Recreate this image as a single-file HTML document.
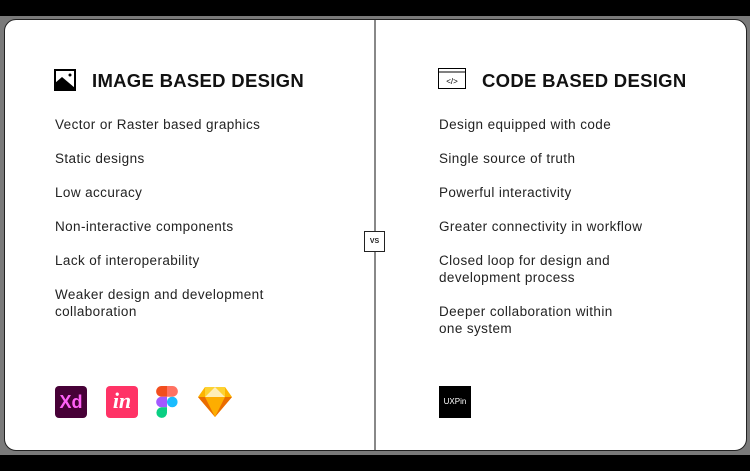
<!DOCTYPE html>
<html><head><style>
body{margin:0;width:750px;height:471px;background:#7a7a7a;position:relative;overflow:hidden;font-family:"Liberation Sans",sans-serif;color:#1a1a1a}
.bt{position:absolute;left:0;top:0;width:750px;height:16px;background:#000}
.bb{position:absolute;left:0;top:455px;width:750px;height:16px;background:#000}
.card{position:absolute;left:4px;top:19px;width:741px;height:430px;background:#fff;border:1px solid #222;border-radius:12px}
.div{position:absolute;left:374px;top:20px;width:2px;height:430px;background:#888}
.vs{position:absolute;left:364px;top:231px;width:19px;height:19px;border:1px solid #222;background:#fff;font-size:7px;font-weight:bold;text-align:center;line-height:19px}
h2{position:absolute;margin:0;font-size:18.5px;font-weight:bold;letter-spacing:0.3px;top:70px;color:#111}
.it{position:absolute;font-size:13.5px;letter-spacing:0.4px;line-height:17px;color:#222}
.ic{position:absolute;width:34px;height:34px;border-radius:4px}
</style></head><body>
<div class="bt"></div><div class="bb"></div>
<div class="card"></div>
<div class="div"></div>
<div class="vs">VS</div>
<svg style="position:absolute;left:54px;top:69px" width="22" height="22"><rect x="1" y="1" width="20" height="20" fill="#fff" stroke="#000" stroke-width="2"/><path d="M1 21 L1 14 L8 8 L21 19 L21 21Z" fill="#000"/><circle cx="16" cy="6" r="1.5" fill="#000"/></svg>
<h2 style="left:92px">IMAGE BASED DESIGN</h2>
<svg style="position:absolute;left:438px;top:68px" width="28" height="22"><rect x="0.5" y="0.5" width="27" height="20" fill="#fff" stroke="#000"/><line x1="0" y1="4" x2="28" y2="4" stroke="#000"/><text x="14" y="16" font-size="8" text-anchor="middle" font-family="Liberation Sans">&lt;/&gt;</text></svg>
<h2 style="left:482px">CODE BASED DESIGN</h2>
<div class="it" style="left:55px;top:116px">Vector or Raster based graphics</div>
<div class="it" style="left:55px;top:150px">Static designs</div>
<div class="it" style="left:55px;top:184px">Low accuracy</div>
<div class="it" style="left:55px;top:218px">Non-interactive components</div>
<div class="it" style="left:55px;top:252px">Lack of interoperability</div>
<div class="it" style="left:55px;top:286px">Weaker design and development<br>collaboration</div>
<div class="it" style="left:439px;top:116px">Design equipped with code</div>
<div class="it" style="left:439px;top:150px">Single source of truth</div>
<div class="it" style="left:439px;top:184px">Powerful interactivity</div>
<div class="it" style="left:439px;top:218px">Greater connectivity in workflow</div>
<div class="it" style="left:439px;top:252px">Closed loop for design and<br>development process</div>
<div class="it" style="left:439px;top:303px">Deeper collaboration within<br>one system</div>
<div class="ic" style="left:55px;top:386px;width:32px;height:32px;background:#470137;color:#ff61f6;font-weight:bold;font-size:18px;line-height:32px;text-align:center">Xd</div>
<div class="ic" style="left:106px;top:386px;width:32px;height:32px;background:#ff3366;color:#fff;font-weight:bold;font-style:italic;font-family:'Liberation Serif',serif;font-size:22px;line-height:30px;text-align:center">in</div>
<svg style="position:absolute;left:156px;top:386px" width="22" height="32"><path d="M5.5 0h5.5v10.7H5.5a5.35 5.35 0 0 1 0-10.7z" fill="#f24e1e"/><path d="M11 0h5.5a5.35 5.35 0 0 1 0 10.7H11z" fill="#ff7262"/><path d="M5.5 10.7H11v10.6H5.5a5.3 5.3 0 0 1 0-10.6z" fill="#a259ff"/><circle cx="16.3" cy="16" r="5.3" fill="#1abcfe"/><path d="M5.5 21.3H11v5.3a5.3 5.3 0 1 1-5.5-5.3z" fill="#0acf83"/></svg>
<svg style="position:absolute;left:197px;top:386px" width="36" height="32"><polygon points="8,1 28,1 35,11 18,31 1,11" fill="#fdb300"/><polygon points="1,11 35,11 18,31" fill="#ea6c00"/><polygon points="8,11 28,11 18,31" fill="#fdad00"/><polygon points="8,1 18,1 8,11" fill="#fdd231"/><polygon points="18,1 28,1 28,11" fill="#fdd231"/><polygon points="8,11 18,1 28,11" fill="#feeeb7"/></svg>
<div class="ic" style="left:439px;top:386px;width:32px;height:32px;border-radius:0;background:#000;color:#fff;font-size:8px;line-height:32px;text-align:center">UXPin</div>
</body></html>
